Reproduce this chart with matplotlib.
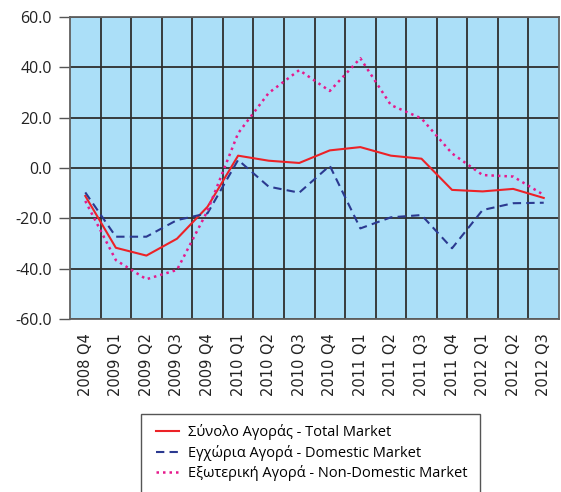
"""Market index change by quarter: total, domestic and non-domestic."""

import matplotlib

matplotlib.use("Agg")
import matplotlib.pyplot as plt
from matplotlib.patches import Rectangle
from matplotlib.ticker import FixedLocator, FormatStrFormatter

QUARTERS = [
    "2008 Q4", "2009 Q1", "2009 Q2", "2009 Q3", "2009 Q4",
    "2010 Q1", "2010 Q2", "2010 Q3", "2010 Q4",
    "2011 Q1", "2011 Q2", "2011 Q3", "2011 Q4",
    "2012 Q1", "2012 Q2", "2012 Q3",
]
TOTAL = [-11.1, -31.7, -34.8, -28.1, -15.4, 4.9, 2.9, 2.0,
         7.0, 8.3, 4.9, 3.7, -8.7, -9.3, -8.3, -11.9]
DOMESTIC = [-9.7, -27.3, -27.3, -20.7, -18.0, 3.2, -7.4, -9.8,
            0.9, -24.0, -19.6, -18.7, -31.9, -16.7, -14.0, -13.8]
NON_DOMESTIC = [-13.1, -36.6, -44.2, -40.5, -17.0, 13.8, 29.8, 38.9,
                30.6, 43.6, 25.0, 19.7, 5.8, -2.8, -3.4, -10.7]
Y_TICKS = [-60, -40, -20, 0, 20, 40, 60]

LABELS = [
    "Σύνολο Αγοράς - Total Market",
    "Εγχώρια Αγορά - Domestic Market",
    "Εξωτερική Αγορά - Non-Domestic Market",
]

BG = "#abdff8"
GRID = "#2e2e2e"
RED = "#ec2227"
NAVY = "#2b3990"
MAGENTA = "#e6198c"

plt.rcParams["font.family"] = ["Open Sans", "DejaVu Sans"]

W, H = 561, 492
fig = plt.figure(figsize=(W / 100, H / 100), dpi=100)
ax = fig.add_axes([70 / W, 1 - 319 / H, 489 / W, 302 / H])
ax.set_facecolor(BG)

x = list(range(len(QUARTERS)))
ax.plot(x, TOTAL, color=RED, linewidth=1.5, label=LABELS[0], zorder=3)
ax.plot(x, DOMESTIC, color=NAVY, linewidth=1.5, linestyle=(0, (4, 2.5)),
        label=LABELS[1], zorder=3)
ax.plot(x, NON_DOMESTIC, color=MAGENTA, linewidth=1.8, linestyle=(0, (1, 1.6)),
        label=LABELS[2], zorder=3)

ax.set_xlim(-0.5, len(QUARTERS) - 0.5)
ax.set_ylim(-60, 60)
ax.set_yticks(Y_TICKS)
ax.yaxis.set_major_formatter(FormatStrFormatter("%.1f"))
ax.set_xticks(x)
ax.set_xticklabels(QUARTERS, rotation=90, family="DejaVu Sans")
ax.xaxis.set_minor_locator(FixedLocator([i - 0.5 for i in range(1, len(QUARTERS))]))

ax.grid(True, axis="y", which="major", color=GRID, linewidth=1.3, zorder=1)
ax.grid(True, axis="x", which="minor", color=GRID, linewidth=1.3, zorder=1)
ax.set_axisbelow(True)
ax.tick_params(axis="y", length=8, width=1, color="#555555", labelsize=11.5,
               labelcolor="#222222", pad=5)
ax.tick_params(axis="x", which="major", length=0, labelsize=10.5,
               labelcolor="#222222", pad=10)
ax.tick_params(axis="x", which="minor", length=0)
for spine in ax.spines.values():
    spine.set_color("#606060")
    spine.set_linewidth(1.3)

# legend frame runs off the bottom edge in the original
fig.patches.append(Rectangle((141 / W, -0.02), (480 - 141) / W, 0.02 + (H - 414) / H,
                             transform=fig.transFigure, facecolor="white",
                             edgecolor="#555555", linewidth=1.0, zorder=0))
fig.legend(
    loc="upper left",
    bbox_to_anchor=(156 / W, 1 - 424 / H),
    borderaxespad=0,
    borderpad=0,
    frameon=False,
    prop={"family": "Open Sans", "size": 10.5},
    handlelength=1.6,
    handletextpad=0.6,
    labelspacing=0.32,
)

fig.savefig("out.png", dpi=100)
